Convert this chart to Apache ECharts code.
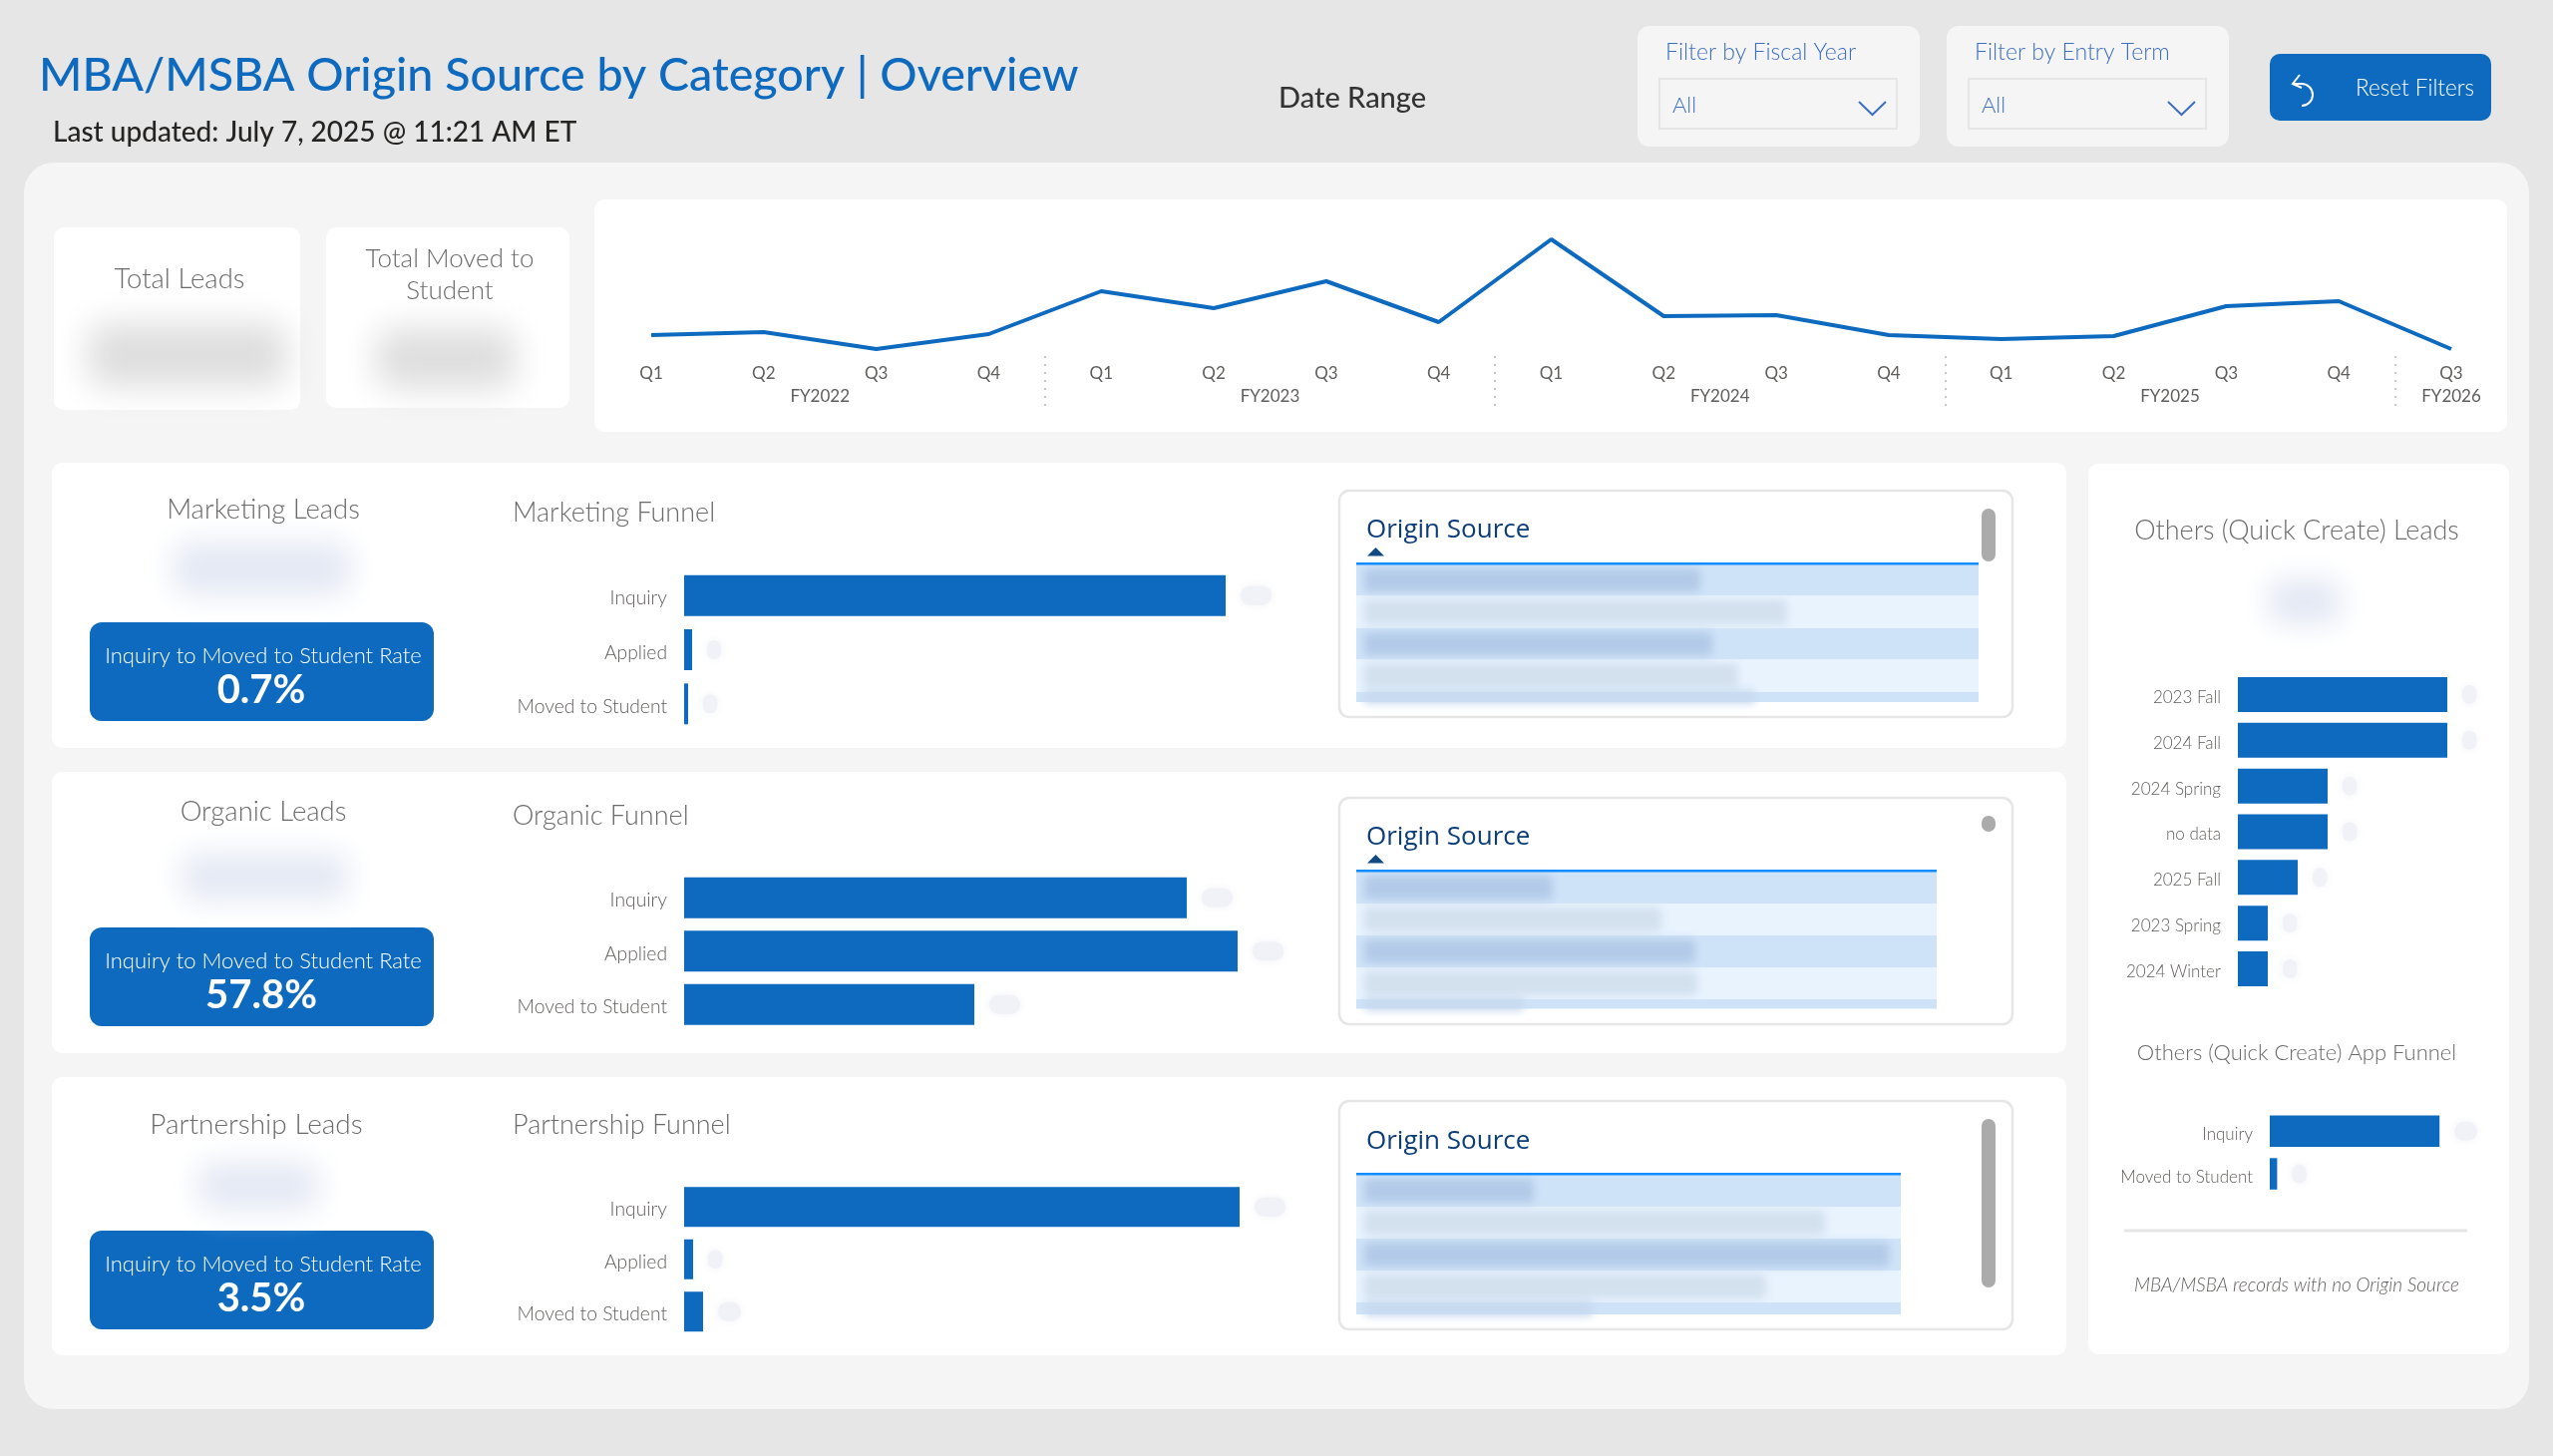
<!DOCTYPE html>
<html>
<head>
<meta charset="utf-8">
<title>MBA/MSBA Origin Source by Category</title>
<script src="https://cdn.jsdelivr.net/npm/echarts@6/dist/echarts.min.js"></script>
<style>
  html,body{margin:0;padding:0;background:#e6e6e6;}
  #main{width:2560px;height:1460px;}
</style>
</head>
<body>
<div id="main"></div>
<script>
var blue='#0d6abf';
var din='Lato';

// leads per quarter
var quarters=['Q1','Q2','Q3','Q4','Q1','Q2','Q3','Q4','Q1','Q2','Q3','Q4','Q1','Q2','Q3','Q4','Q3'];
var quarter_leads=[21,24,7,22,65,48,75,34,117,40,41,21,17,20,50,55,7];
var fiscal_years={1.5:'FY2022',5.5:'FY2023',9.5:'FY2024',13.5:'FY2025',16:'FY2026'};

var funnel_names=['Inquiry','Applied','Moved to Student'];
var charts=[
  {left:686,top:570,width:600,height:163,bar:41,max:600,names:funnel_names,data:[543,8,4]},
  {left:686,top:873.5,width:600,height:160.5,bar:41,max:600,names:funnel_names,data:[504,555,291]},
  {left:686,top:1184,width:600,height:157.5,bar:40,max:600,names:funnel_names,data:[557,9,19]},
  {left:2244,top:673.6,width:270,height:320.8,bar:35,max:9,size:17,names:['2023 Fall','2024 Fall','2024 Spring','no data','2025 Fall','2023 Spring','2024 Winter'],data:[7,7,3,3,2,1,1]},
  {left:2276,top:1113,width:222,height:85.4,bar:31.5,max:30,size:17,names:['Inquiry','Moved to Student'],data:[23,1]}
];

// the tables beside each funnel, row contents are blurred in the report
var tables=[
  {top:492,bottom:719,head:530,arrow:true,line:565,right:1984,rows:[597.5,630,661.5,694,704],text:[1705,1792,1717,1743,1760],scroll:[510,563]},
  {top:800,bottom:1027,head:838,arrow:true,line:873,right:1942,rows:[906,938,970,1002,1011.5],text:[1557,1666,1700,1702,1528],scroll:[818,834]},
  {top:1104,bottom:1333,head:1143,arrow:false,line:1177,right:1906,rows:[1210,1242,1274,1306,1318],text:[1538,1830,1894,1771,1597],scroll:[1122,1291]}
];

function box(x,y,x2,y2,fill,r,z){
  return {type:'rect',z:z||0,silent:true,shape:{x:x,y:y,width:x2-x,height:y2-y,r:r||0},style:{fill:fill}};
}
function label(text,x,y,font,fill,align){
  return {type:'text',z:5,silent:true,style:{text:text,x:x,y:y+1.5,font:font,fill:fill,align:align||'center',verticalAlign:'middle'}};
}
// only the shadow of the rect lands on the page, which gives a soft edged patch
function smudge(x,y,x2,y2,fill,blur){
  var b=blur||14;
  return {type:'rect',z:4,silent:true,shape:{x:x-4000,y:y,width:x2-x,height:y2-y,r:b/2},
    style:{fill:fill,shadowBlur:b,shadowColor:fill,shadowOffsetX:4000}};
}
function line(points,color,width,z){
  return {type:'polyline',z:z||5,silent:true,shape:{points:points},style:{stroke:color,lineWidth:width,fill:null}};
}

function createGraphic(){
  var g=[];
  var grey='#6b6b6b';

  g.push(box(24,163,2536,1413,'#f5f5f5',30));

  // header
  g.push(label('Last updated: July 7, 2025 @ 11:21 AM ET',53,131,'500 28px '+din,'#252423','left'));
  g.push(label('Date Range',1282,97,'500 29px '+din,'#333333','left'));
  [[1642,'Filter by Fiscal Year'],[1952,'Filter by Entry Term']].forEach(function(f){
    var x=f[0];
    g.push(box(x,26,x+283,147,'#f5f5f5',12));
    g.push(label(f[1],x+28,51,'300 23px '+din,'#3f6fc0','left'));
    g.push({type:'rect',z:1,silent:true,shape:{x:x+22,y:79,width:238,height:50},style:{fill:'#f5f5f5',stroke:'#e6e6e6',lineWidth:2}});
    g.push(label('All',x+35,104,'300 22px '+din,'#3f6fc0','left'));
    g.push(line([[x+222,102],[x+235.5,115],[x+249,102]],'#3f6fc0',2));
  });
  g.push(box(2276,54,2498,121,blue,10,1));
  g.push(label('Reset Filters',2362,87,'300 22.5px '+din,'#ffffff','left'));
  g.push(line([[2306,75],[2299,84],[2308,88]],'#ffffff',2));
  g.push({type:'arc',z:5,silent:true,shape:{cx:2308,cy:95,r:11,startAngle:-1.57,endAngle:1.57},style:{stroke:'#ffffff',lineWidth:2,fill:null}});
  g.push(line([[2299,84],[2308,84]],'#ffffff',2));

  // top cards
  g.push(box(54,228,301,411,'#ffffff',10,1));
  g.push(box(327,228,571,409,'#ffffff',10,1));
  g.push(box(596,200,2514,433,'#ffffff',10,1));
  g.push(label('Total Leads',180,279,'300 27.5px '+din,grey));
  g.push(smudge(88,324,288,388,'#dedede',34));
  g.push(label('Total Moved to',451,258,'300 26px '+din,grey));
  g.push(label('Student',451,290,'300 26px '+din,grey));
  g.push(smudge(377,329,517,390,'#dedede',34));

  // category rows
  g.push(box(52,464,2072,750,'#ffffff',10,1));
  g.push(box(52,774,2072,1056,'#ffffff',10,1));
  g.push(box(52,1080,2072,1359,'#ffffff',10,1));

  [
    {name:'Marketing Leads',funnel:'Marketing Funnel',font:27.5,cx:264,y:510,fy:513,s:[163,533,362,607],k:[624,723],ky:656,vy:691,rate:'0.7%'},
    {name:'Organic Leads',funnel:'Organic Funnel',font:27.5,cx:264,y:813,fy:817,s:[171,845,360,913],k:[930,1029],ky:962,vy:997,rate:'57.8%'},
    {name:'Partnership Leads',funnel:'Partnership Funnel',font:28,cx:257,y:1126,fy:1127,s:[188,1155,330,1223],k:[1234,1333],ky:1266,vy:1301,rate:'3.5%'}
  ].forEach(function(r){
    g.push(label(r.name,r.cx,r.y,'300 '+r.font+'px '+din,grey));
    g.push(label(r.funnel,514,r.fy,'300 27px '+din,grey,'left'));
    g.push(smudge(r.s[0]+10,r.s[1]+10,r.s[2]-10,r.s[3]-10,'#e4e9f4',30));
    g.push(box(90,r.k[0],435,r.k[1],blue,12,2));
    g.push(label('Inquiry to Moved to Student Rate',264,r.ky,'300 22px '+din,'#ffffff'));
    g.push(label(r.rate,262,r.vy,'700 40px '+din,'#ffffff'));
  });

  // origin source tables
  tables.forEach(function(t){
    g.push({type:'rect',z:2,silent:true,shape:{x:1343,y:t.top,width:675,height:t.bottom-t.top,r:10},style:{fill:'#ffffff',stroke:'#e6e6e6',lineWidth:2.5}});
    g.push(label('Origin Source',1370,t.head,'26px "Open Sans"','#0b3d78','left'));
    if(t.arrow){
      g.push({type:'polygon',z:5,silent:true,shape:{points:[[1371,t.line-7.5],[1388,t.line-7.5],[1379.5,t.line-16]]},style:{fill:'#114a82'}});
    }
    var y=t.line+1;
    t.rows.forEach(function(bottom,i){
      g.push(box(1360,y,t.right,bottom,i%2?'#e8f3fe':'#cfe3f8',0,3));
      if(bottom-y<20){
        g.push(smudge(1368,y-2,t.text[i],bottom+2,'#c8daef',8));
      }else{
        g.push(smudge(1368,y+4,t.text[i],bottom-4,i%2?'#d3e0ee':'#b3cbe8',9));
      }
      y=bottom;
    });
    g.push(box(1360,t.line-1,t.right,t.line+1.5,'#118dff',0,4));
    g.push(box(1987,t.scroll[0],2001,t.scroll[1],'#ababab',7,4));
  });

  // right column
  g.push(box(2094,465,2516,1358,'#ffffff',10,1));
  g.push(label('Others (Quick Create) Leads',2303,531,'300 27px '+din,grey));
  g.push(smudge(2274,580,2348,627,'#e4e9f4',28));
  g.push(label('Others (Quick Create) App Funnel',2303,1054,'300 22px '+din,grey));
  g.push(box(2130,1232.5,2474,1235.5,'#e6e6e6',0,2));
  g.push(label('MBA/MSBA records with no Origin Source',2303,1287,'italic 300 19px '+din,'#605e5c'));
  return g;
}

function createChart(){
  var myChart=echarts.init(document.getElementById('main'));

  var grid=[{left:596.6,top:220,width:1917.8,height:137}];
  var xAxis=[
    {type:'category',gridIndex:0,z:6,data:quarters,axisLine:{show:false},axisTick:{show:false},
      axisLabel:{interval:0,margin:9,color:'#605e5c',fontFamily:din,fontSize:17}},
    {type:'value',gridIndex:0,z:6,position:'bottom',min:-0.5,max:16.5,splitLine:{show:false},axisLine:{show:false},
      axisTick:{show:true,customValues:[3.5,7.5,11.5,15.5],length:54,lineStyle:{color:'#c8c8c8',width:2,type:[2,6]}},
      axisLabel:{customValues:[1.5,5.5,9.5,13.5,16],margin:32,color:'#605e5c',fontFamily:din,fontSize:17,
        formatter:function(v){return fiscal_years[v];}}}
  ];
  var yAxis=[{type:'value',gridIndex:0,min:0,max:137,show:false}];
  var series=[{
    name:'Leads',type:'line',xAxisIndex:0,yAxisIndex:0,data:quarter_leads,
    symbol:'none',lineStyle:{color:blue,width:4},itemStyle:{color:blue},animation:false
  }];

  charts.forEach(function(c,i){
    var n=i+1;
    var size=c.size||19.3;
    grid.push({left:c.left,top:c.top,width:c.width,height:c.height});
    xAxis.push({type:'value',gridIndex:n,min:0,max:c.max,show:false});
    yAxis.push({type:'category',gridIndex:n,z:6,inverse:true,data:c.names,
      axisLine:{show:false},axisTick:{show:false},
      axisLabel:{interval:0,margin:17,
        formatter:function(v){return '{a|'+v+'}';},
        rich:{a:{padding:[6,0,0,0],color:'#605e5c',fontFamily:din,fontSize:size,fontWeight:300}}}});
    series.push({
      type:'bar',xAxisIndex:n+1,yAxisIndex:n,data:c.data,barWidth:c.bar,animation:false,
      itemStyle:{color:blue},
      // the report hides the counts behind a blur
      label:{show:true,position:'right',distance:15,color:'#f1f2f7',fontSize:15,
        backgroundColor:'#f1f2f7',borderRadius:9,padding:[2,3],shadowBlur:10,shadowColor:'#f1f2f7'}
    });
  });

  var option={
    backgroundColor:'#e6e6e6',
    title:{text:'MBA/MSBA Origin Source by Category | Overview',left:39,top:52,padding:0,
      textStyle:{color:blue,fontFamily:din,fontWeight:500,fontSize:46.6}},
    grid:grid,
    xAxis:xAxis,
    yAxis:yAxis,
    series:series,
    graphic:createGraphic()
  };
  myChart.setOption(option);
}

createChart();
</script>
</body>
</html>
